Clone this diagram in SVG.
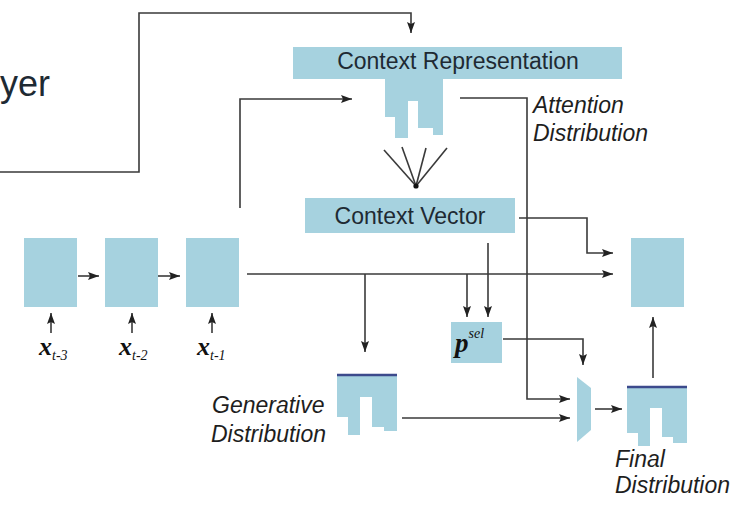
<svg xmlns="http://www.w3.org/2000/svg" width="741" height="505" viewBox="0 0 741 505">
<defs>
<style>
.blk{fill:#a6d2df}
.ln{fill:none;stroke:#3a3a3a;stroke-width:1.6}
.ar{marker-end:url(#ah)}
.lbl{font-family:"Liberation Sans",Arial,sans-serif;fill:#1e2a33}
.it{font-family:"Liberation Sans",Arial,sans-serif;font-style:italic;fill:#1e1e1e;font-size:23px}
.mx{font-family:"Liberation Serif","Times New Roman",serif;font-style:italic;font-weight:bold;fill:#111}
.sb{font-family:"Liberation Serif","Times New Roman",serif;font-style:italic;fill:#111}
.top{stroke:#3c4a8c;stroke-width:2.5}
</style>
<marker id="ah" markerUnits="userSpaceOnUse" markerWidth="11" markerHeight="8" refX="11" refY="4" orient="auto">
<path d="M0,0 L11,4 L0,8 L2,4 z" fill="#222"/>
</marker>
</defs>
<rect width="741" height="505" fill="#fff"/>

<g id="layer-label"><text class="lbl" x="0" y="96" font-size="36">yer</text></g>

<g id="context-representation">
<rect class="blk" x="293" y="47" width="329" height="32"/>
<text class="lbl" x="458" y="69" font-size="23" text-anchor="middle">Context Representation</text>
<path class="blk" d="M385,79 H443 V135 H433 V128 H418 V101 H408 V138 H395 V117 H385 Z"/>
</g>
<g id="attention-label"><text class="it"><tspan x="533" y="113">Attention</tspan><tspan x="533" y="141">Distribution</tspan></text></g>

<g id="context-vector">
<rect class="blk" x="305" y="198" width="210" height="35"/>
<text class="lbl" x="410" y="224" font-size="23" text-anchor="middle">Context Vector</text>
</g>

<g id="h1"><rect class="blk" x="24" y="238" width="53" height="69"/><text x="39" y="355"><tspan class="mx" font-size="26">x</tspan><tspan class="sb" font-size="14" dy="5">t-3</tspan></text></g>
<g id="h2"><rect class="blk" x="105" y="238" width="53" height="69"/><text x="119" y="355"><tspan class="mx" font-size="26">x</tspan><tspan class="sb" font-size="14" dy="5">t-2</tspan></text></g>
<g id="h3"><rect class="blk" x="186" y="238" width="53" height="69"/><text x="197" y="355"><tspan class="mx" font-size="26">x</tspan><tspan class="sb" font-size="14" dy="5">t-1</tspan></text></g>

<g id="psel">
<rect class="blk" x="451" y="322" width="51" height="41"/>
<text x="455" y="352"><tspan class="sb" font-size="27" font-weight="bold">p</tspan><tspan class="sb" font-size="14" dy="-14">sel</tspan></text>
</g>

<g id="generative">
<path class="blk" d="M337,375 H397 V431 H384 V427 H372 V397 H360 V435 H348 V417 H337 Z"/>
<line class="top" x1="337" y1="375" x2="397" y2="375"/>
<text class="it"><tspan x="212" y="413">Generative</tspan><tspan x="211" y="442">Distribution</tspan></text>
</g>

<g id="mixer"><polygon class="blk" points="577,377 591,388 591,430 577,442"/></g>

<g id="final">
<path class="blk" d="M627,387 H687 V443 H673 V437 H662 V408 H650 V446 H638 V433 H627 Z"/>
<line class="top" x1="627" y1="387" x2="687" y2="387"/>
<text class="it"><tspan x="615" y="467">Final</tspan><tspan x="615" y="493">Distribution</tspan></text>
</g>

<g id="output"><rect class="blk" x="631" y="238" width="53" height="69"/></g>

<g id="connectors">
<path class="ln ar" stroke="#555" stroke-width="2" d="M0,172 H139 V13 H411 V33"/>
<path class="ln ar" d="M240,208 V99 H352"/>
<path class="ln ar" d="M460,98 H527 V399 H570"/>
<path class="ln ar" d="M519,218 H587 V253 H613"/>
<path class="ln ar" stroke-width="2" d="M247,274 H613"/>
<path class="ln ar" d="M365,274 V352"/>
<path class="ln ar" d="M467,274 V317"/>
<path class="ln ar" d="M488,243 V317"/>
<path class="ln ar" d="M503,339 H583 V365"/>
<path class="ln ar" d="M402,418 H570"/>
<path class="ln ar" d="M595,409 H622"/>
<path class="ln ar" d="M653,378 V317"/>
<path class="ln ar" d="M78,276 H99"/>
<path class="ln ar" d="M158,276 H180"/>
<path class="ln ar" d="M51,333 V313"/>
<path class="ln ar" d="M132,333 V313"/>
<path class="ln ar" d="M212,333 V313"/>
<g class="ln" stroke-width="1.4">
<line x1="416" y1="186" x2="384" y2="150"/>
<line x1="416" y1="186" x2="402" y2="147"/>
<line x1="416" y1="186" x2="426" y2="148"/>
<line x1="416" y1="186" x2="447" y2="148"/>
</g>
<circle cx="416" cy="186" r="2.6" fill="#111"/>
</g>
</svg>
